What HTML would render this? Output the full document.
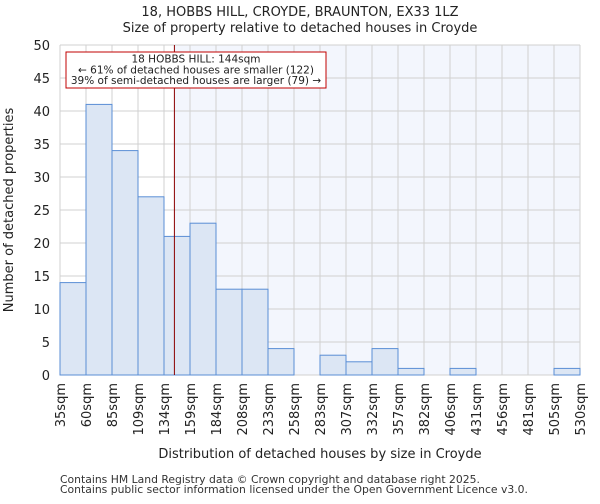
<!DOCTYPE html>
<html><head><meta charset="utf-8"><style>
body{margin:0;background:#fff;font-family:"DejaVu Sans","Liberation Sans",sans-serif}
</style></head><body>
<svg id="c" width="600" height="500" xmlns="http://www.w3.org/2000/svg" font-family="DejaVu Sans, Liberation Sans, sans-serif"></svg>
<script>
const categories=["35sqm","60sqm","85sqm","109sqm","134sqm","159sqm","184sqm","208sqm","233sqm","258sqm","283sqm","307sqm","332sqm","357sqm","382sqm","406sqm","431sqm","456sqm","481sqm","505sqm","530sqm"];
const counts=[14,41,34,27,21,23,13,13,4,0,3,2,4,1,0,1,0,0,0,1];
const yTicks=[0,5,10,15,20,25,30,35,40,45,50];
const markerBin=4.4;
const NS="http://www.w3.org/2000/svg";
const svg=document.getElementById('c');
const L=60,R=580,T=45,B=375,n=counts.length,bw=(R-L)/n;
const x=i=>L+i*bw, y=v=>B-(v/50)*(B-T);
function el(t,a,p){const e=document.createElementNS(NS,t);for(const k in a)e.setAttribute(k,a[k]);(p||svg).appendChild(e);return e;}
const mx=x(markerBin);
const bgL=el('rect',{x:L,y:T,width:mx-L,height:B-T,fill:'#fff'});


const bgR=el('rect',{x:mx,y:T,width:R-mx,height:B-T,fill:'#f3f6fd'});


yTicks.forEach(v=>{
 const g=el('line',{x1:L,x2:R,y1:y(v),y2:y(v),stroke:'#d0d0d0','stroke-width':1});
 
 
 const t=el('text',{x:L-10,y:y(v)+5,'text-anchor':'end','font-size':13,fill:'#222'});
 t.textContent=v;
 
 
});
categories.forEach((c,i)=>{
 const g=el('line',{x1:x(i),x2:x(i),y1:T,y2:B,stroke:'#d0d0d0','stroke-width':1});
 
 
 const t=el('text',{transform:`translate(${x(i)+5},${B+8}) rotate(-90)`,'text-anchor':'end','font-size':13,fill:'#222'});
 t.textContent=c;
 
 
});
counts.forEach((v,i)=>{
 if(v<=0)return;
 const r=el('rect',{x:x(i),y:y(v),width:bw,height:B-y(v),fill:'#dce6f4',stroke:'#5a8ed5','stroke-width':1});
 
 
});
const ml=el('line',{x1:mx,x2:mx,y1:T,y2:B,stroke:'#8b0000','stroke-width':1});


const box=el('rect',{x:66,y:52,width:260,height:36,fill:'#fff',stroke:'#c00000','stroke-width':1});


["18 HOBBS HILL: 144sqm","← 61% of detached houses are smaller (122)","39% of semi-detached houses are larger (79) →"].forEach((s,i)=>{
 const t=el('text',{x:196,y:62.5+i*10.8,'text-anchor':'middle','font-size':10.5,fill:'#222'});
 t.textContent=s;
 
 
});
const title=[["18, HOBBS HILL, CROYDE, BRAUNTON, EX33 1LZ",16],["Size of property relative to detached houses in Croyde",32]];
title.forEach(([s,yy])=>{
 const t=el('text',{x:300,y:yy,'text-anchor':'middle','font-size':13,fill:'#222'});
 t.textContent=s;
 
 
});
const xt=el('text',{x:320,y:458,'text-anchor':'middle','font-size':13,fill:'#222'});
xt.textContent="Distribution of detached houses by size in Croyde";


const yt=el('text',{transform:'translate(13,210) rotate(-90)','text-anchor':'middle','font-size':13,fill:'#222'});
yt.textContent="Number of detached properties";


["Contains HM Land Registry data © Crown copyright and database right 2025.","Contains public sector information licensed under the Open Government Licence v3.0."].forEach((s,i)=>{
 const t=el('text',{x:60,y:483+i*10,'font-size':10.8,fill:'#333'});
 t.textContent=s;
 
 
});
</script>
</body></html>
